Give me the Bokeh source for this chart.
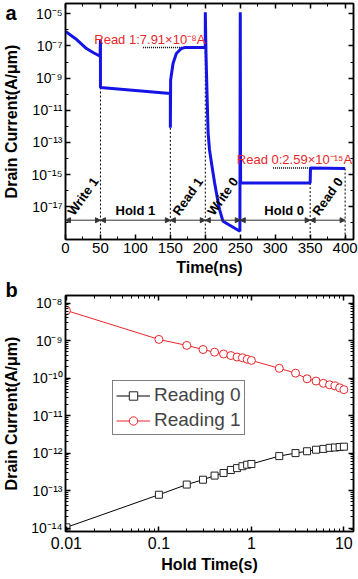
from bokeh.plotting import figure
from bokeh.models import (FixedTicker, CustomJSTickFormatter, LinearAxis, LogAxis,
                          Arrow, NormalHead, Legend, LegendItem, Range1d,
                          ColumnDataSource)
from bokeh.layouts import column
from bokeh.core.properties import value
from bokeh.embed import file_html
from bokeh.resources import INLINE

FONT = "Liberation Sans"

# ---------------- panel a data ----------------
time_ns = [0, 8, 16, 30, 40, 49.5, 50, 50, 150, 150, 150.4, 153.8, 158.6, 165.7, 170.5, 200,
           200, 201, 202.5, 204, 206, 210, 213.3, 217, 220.4, 225.3, 249.5,
           250, 250.5, 350, 350.5, 400]
drain_current_a = [8.13e-7, 4.47e-7, 2.51e-7, 6.92e-8, 3.80e-8, 2.29e-8, 2.63e-7, 2.63e-10,
                   1.12e-10, 8.13e-13, 7.59e-10, 8.13e-9, 3.39e-8, 6.92e-8, 7.91e-8, 7.91e-8,
                   1.26e-5, 3.16e-8, 1.0e-10, 3.98e-13, 3.55e-14, 2.51e-15, 3.16e-16, 3.98e-17,
                   6.76e-18, 1.26e-18, 3.02e-19,
                   1.26e-5, 3.02e-16, 3.02e-16, 2.59e-15, 2.40e-15]
phase_edges = [0, 50, 150, 200, 250, 350, 400]
phase_names = ["Write 1", "Hold 1", "Read 1", "Write 0", "Hold 0", "Read 0"]
phase_rotated = [True, False, True, True, False, True]
edge_times = [50, 150, 200, 350, 400]
edge_levels = [2.63e-10, 8.13e-13, 7.91e-8, 3.02e-16, 2.40e-15]
read1_level = 7.91e-8
read0_level = 2.59e-15
read1_text = "Read 1:7.91\u00d710\u207b\u2078A"
read0_text = "Read 0:2.59\u00d710\u207b\u00b9\u2075A"
x_ticks_a = [0, 50, 100, 150, 200, 250, 300, 350, 400]
y_ticks_a = [1e-5, 1e-7, 1e-9, 1e-11, 1e-13, 1e-15, 1e-17]
y_tick_labels_a = ["10\u207b\u2075", "10\u207b\u2077", "10\u207b\u2079", "10\u207b\u00b9\u00b9",
                   "10\u207b\u00b9\u00b3", "10\u207b\u00b9\u2075", "10\u207b\u00b9\u2077"]

# ---------------- panel b data ----------------
hold_time_s = [0.01, 0.1, 0.2, 0.3, 0.4, 0.5, 0.6, 0.7, 0.8, 0.9, 1,
               2, 3, 4, 5, 6, 7, 8, 9, 10]
reading0 = [1.05e-14, 7.76e-14, 1.45e-13, 1.95e-13, 2.51e-13, 2.95e-13, 3.55e-13, 3.98e-13,
            4.47e-13, 4.90e-13, 5.13e-13, 8.32e-13, 1.00e-12, 1.12e-12, 1.23e-12, 1.29e-12,
            1.38e-12, 1.41e-12, 1.45e-12, 1.48e-12]
reading1 = [6.31e-9, 1.07e-9, 7.41e-10, 5.75e-10, 4.90e-10, 4.37e-10, 3.98e-10, 3.63e-10,
            3.47e-10, 3.16e-10, 2.95e-10, 1.82e-10, 1.35e-10, 9.55e-11, 8.32e-11, 7.24e-11,
            6.61e-11, 6.17e-11, 5.50e-11, 4.90e-11]
x_ticks_b = [0.01, 0.1, 1, 10]
x_tick_labels_b = ["0.01", "0.1", "1", "10"]
y_ticks_b = [1e-8, 1e-9, 1e-10, 1e-11, 1e-12, 1e-13, 1e-14]
y_tick_labels_b = ["10\u207b\u2078", "10\u207b\u2079", "10\u207b\u00b9\u2070", "10\u207b\u00b9\u00b9",
                   "10\u207b\u00b9\u00b2", "10\u207b\u00b9\u00b3", "10\u207b\u00b9\u2074"]

RED = "#e8262b"
BLUE = "#1414e6"

FMT_CODE = """
let best = 0, bd = 1e9;
for (let k = 0; k < vals.length; k++) {
  const d = Math.abs(Math.log10(Math.abs(tick) + 1e-300) - Math.log10(Math.abs(vals[k]) + 1e-300));
  if (d < bd) { bd = d; best = k; }
}
return labs[best];
"""
LIN_FMT = """
let best = 0, bd = 1e18;
for (let k = 0; k < vals.length; k++) {
  const d = Math.abs(tick - vals[k]);
  if (d < bd) { bd = d; best = k; }
}
return labs[best];
"""


def style_axis(ax, labels=True, font_size="15px", lstand=3, tstand=3):
    ax.axis_line_color = "black"
    ax.axis_line_width = 1.5
    ax.major_tick_line_color = "black"
    ax.major_tick_line_width = 1.5
    ax.minor_tick_line_color = "black"
    ax.minor_tick_line_width = 1
    ax.major_tick_in = 5
    ax.major_tick_out = 0
    ax.minor_tick_in = 3
    ax.minor_tick_out = 0
    if labels:
        ax.major_label_text_font = FONT
        ax.major_label_text_font_size = font_size
        ax.major_label_text_color = "black"
        ax.major_label_standoff = lstand
        ax.axis_label_text_font = FONT
        ax.axis_label_text_font_style = "bold"
        ax.axis_label_text_font_size = "16px"
        ax.axis_label_text_color = "black"
        ax.axis_label_standoff = tstand
    else:
        ax.major_label_text_font_size = "0px"
        ax.major_label_text_color = None
        ax.major_label_standoff = 0
        ax.axis_label = None


def panel_letter(p, letter, standoff):
    p.title.text = letter
    p.title.align = "left"
    p.title.offset = -60
    p.title.standoff = standoff
    p.title.text_font = FONT
    p.title.text_font_style = "bold"
    p.title.text_font_size = "20px"
    p.title.text_color = "black"


# ================= panel a =================
pa = figure(width=358, height=280, x_range=Range1d(0, 412),
            y_range=Range1d(9.33e-20, 4.37e-5), y_axis_type="log",
            output_backend="svg", toolbar_location=None,
            min_border_left=63, min_border_right=5, min_border_top=3, min_border_bottom=41)
pa.grid.visible = False
pa.outline_line_color = "black"
pa.outline_line_width = 1.5
pa.background_fill_color = "white"
panel_letter(pa, "a", -40)

xt_a = FixedTicker(ticks=x_ticks_a, minor_ticks=[t + 25 for t in x_ticks_a[:-1]])
yt_a = FixedTicker(ticks=y_ticks_a, minor_ticks=[v * 10 for v in y_ticks_a] + [y_ticks_a[-1] / 10])
yfmt_a = CustomJSTickFormatter(args=dict(vals=y_ticks_a, labs=y_tick_labels_a), code=FMT_CODE)
xfmt_a = CustomJSTickFormatter(args=dict(vals=x_ticks_a, labs=[str(t) for t in x_ticks_a]), code=LIN_FMT)

pa.xaxis.ticker = xt_a
pa.xaxis.formatter = xfmt_a
pa.xaxis.axis_label = "Time(ns)"
pa.yaxis.ticker = yt_a
pa.yaxis.formatter = yfmt_a
pa.yaxis.axis_label = "Drain Current(A/\u03bcm)"
for ax in pa.xaxis:
    style_axis(ax, True, "15px", 3, 3)
for ax in pa.yaxis:
    style_axis(ax, True, "14px", 3, 8)

top_a = LinearAxis(ticker=xt_a)
style_axis(top_a, False)
pa.add_layout(top_a, "above")
right_a = LogAxis(ticker=yt_a)
style_axis(right_a, False)
pa.add_layout(right_a, "right")

y_bot = pa.y_range.start
# dotted vertical phase boundaries
pa.segment(x0=edge_times, y0=edge_levels, x1=edge_times, y1=[y_bot] * len(edge_times),
           line_color="black", line_width=1, line_dash="2 2")
# dotted read levels
pa.segment(x0=[111, 297], y0=[read1_level, read0_level], x1=[200, 400], y1=[read1_level, read0_level],
           line_color="black", line_width=1.5, line_dash="1 1")

# curve
pa.line(time_ns, drain_current_a, line_color=BLUE, line_width=3)

# arrows between phases
arrow_y = 1.48e-18
for a0, a1 in zip(phase_edges[:-1], phase_edges[1:]):
    pa.add_layout(Arrow(x_start=a0, x_end=a1, y_start=arrow_y, y_end=arrow_y,
                        line_color="#333333", line_width=1,
                        start=NormalHead(size=5, fill_color="#333333", line_color="#333333"),
                        end=NormalHead(size=5, fill_color="#333333", line_color="#333333")))

mids = [(a0 + a1) / 2 for a0, a1 in zip(phase_edges[:-1], phase_edges[1:])]
ph_src = ColumnDataSource(dict(
    x=mids,
    y=[10 ** -16.35 if r else 10 ** -17.25 for r in phase_rotated],
    t=phase_names,
    a=[0.96 if r else 0.0 for r in phase_rotated],
    xo=[0, 0, 0, 0, 9, 0],
))
pa.text(x="x", y="y", text="t", angle="a", x_offset="xo", source=ph_src,
        text_font=value(FONT), text_font_style="bold", text_font_size="13px",
        text_align="center", text_baseline="middle", text_color="black")

pa.text(x=[200, 410], y=[read1_level, read0_level], text=[read1_text, read0_text],
        text_font=value(FONT), text_font_size="13px", text_color=RED,
        text_align="right", text_baseline="bottom", y_offset=-1)

# ================= panel b =================
pb = figure(width=358, height=298, x_axis_type="log", y_axis_type="log",
            x_range=Range1d(10 ** -2.01, 10 ** 1.104), y_range=Range1d(10 ** -14.09, 10 ** -7.80),
            output_backend="svg", toolbar_location=None,
            min_border_left=63, min_border_right=5, min_border_top=15, min_border_bottom=47)
pb.grid.visible = False
pb.outline_line_color = "black"
pb.outline_line_width = 1.5
panel_letter(pb, "b", -10)

xt_b = FixedTicker(ticks=x_ticks_b,
                   minor_ticks=[m * d for d in x_ticks_b[:-1] for m in range(2, 10)])
yt_b = FixedTicker(ticks=y_ticks_b,
                   minor_ticks=[m * d for d in y_ticks_b + [1e-15] for m in range(2, 10)])
pb.xaxis.ticker = xt_b
pb.xaxis.formatter = CustomJSTickFormatter(args=dict(vals=x_ticks_b, labs=x_tick_labels_b), code=FMT_CODE)
pb.xaxis.axis_label = "Hold Time(s)"
pb.yaxis.ticker = yt_b
pb.yaxis.formatter = CustomJSTickFormatter(args=dict(vals=y_ticks_b, labs=y_tick_labels_b), code=FMT_CODE)
pb.yaxis.axis_label = "Drain Current(A/\u03bcm)"
for ax in pb.xaxis:
    style_axis(ax, True, "16px", 5, 4)
for ax in pb.yaxis:
    style_axis(ax, True, "14px", 3, 8)

top_b = LogAxis(ticker=xt_b)
style_axis(top_b, False)
pb.add_layout(top_b, "above")
right_b = LogAxis(ticker=yt_b)
style_axis(right_b, False)
pb.add_layout(right_b, "right")

l0 = pb.line(hold_time_s, reading0, line_color="black", line_width=1)
s0 = pb.scatter(hold_time_s, reading0, marker="square", size=7, fill_color="white",
                line_color="#222222", line_width=1)
l1 = pb.line(hold_time_s, reading1, line_color=RED, line_width=1)
s1 = pb.scatter(hold_time_s, reading1, marker="circle", size=8, fill_color="white",
                line_color=RED, line_width=1)

legend = Legend(items=[LegendItem(label="Reading 0", renderers=[l0, s0]),
                       LegendItem(label="Reading 1", renderers=[l1, s1])],
                location=(47, 96), border_line_color="black", border_line_width=1,
                label_text_font=FONT, label_text_font_size="19px", glyph_width=34,
                glyph_height=21, label_height=21, label_standoff=4, padding=3, spacing=3,
                margin=0, background_fill_alpha=1)
pb.add_layout(legend)

layout = column(pa, pb, spacing=0)
open("out.html", "w").write(file_html(layout, INLINE))
